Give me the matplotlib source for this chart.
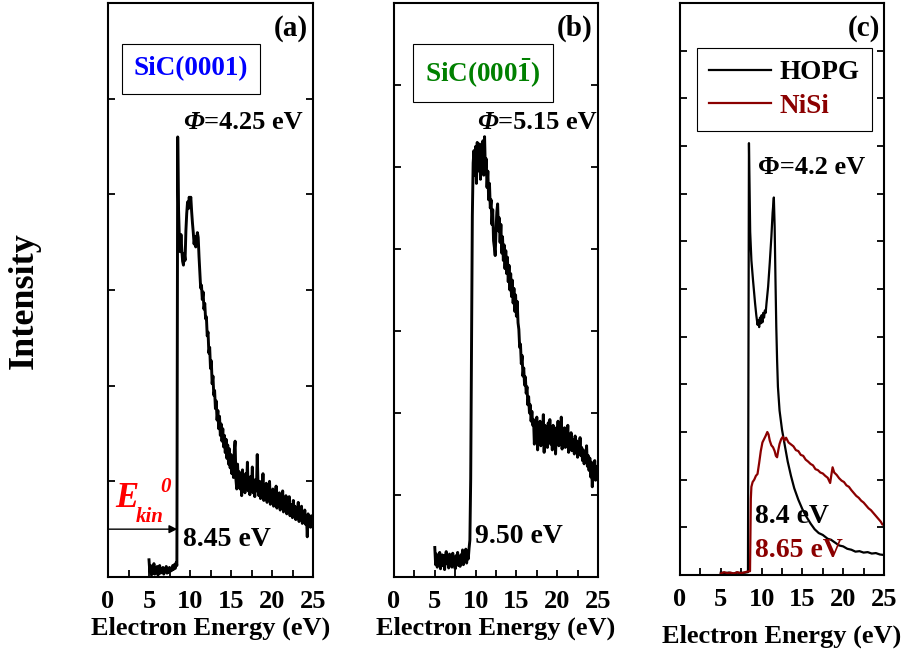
import numpy as np
import matplotlib
matplotlib.use("Agg")
import matplotlib.pyplot as plt
from matplotlib.ticker import MultipleLocator

plt.rcParams.update({
    "font.family": "Liberation Serif", "font.weight": "bold",
    "mathtext.fontset": "custom",
    "mathtext.rm": "Liberation Serif:bold",
    "mathtext.it": "Liberation Serif:italic:bold",
    "mathtext.bf": "Liberation Serif:bold",
    "axes.linewidth": 1.5,
})

NISI = "#8B0000"

# secondary-electron spectra of the two SiC faces, 0.1 eV steps from 5 to 25 eV
energy_sic = np.linspace(5.0, 25.0, 201)
sic_si_face = [
    0.18, 0.05, 0.12, 0.02, 0.09, 0.04, 0.14, 0.03, 0.08, 0.06,
    0.11, 0.02, 0.07, 0.12, 0.04, 0.09, 0.05, 0.10, 0.03, 0.07,
    0.06, 0.11, 0.04, 0.08, 0.05, 0.10, 0.06, 0.09, 0.07, 0.12,
    0.08, 0.13, 0.09, 0.15, 0.12, 4.60, 3.85, 3.55, 3.40, 3.58,
    3.42, 3.30, 3.26, 3.38, 3.31, 3.62, 3.80, 3.92, 3.85, 3.97,
    3.93, 3.97, 3.82, 3.70, 3.60, 3.48, 3.56, 3.45, 3.52, 3.60,
    3.55, 3.35, 3.18, 3.02, 3.05, 2.90, 2.98, 2.80, 2.86, 2.70,
    2.72, 2.52, 2.56, 2.34, 2.40, 2.18, 2.26, 2.02, 2.10, 1.90,
    1.95, 1.76, 1.84, 1.64, 1.74, 1.55, 1.68, 1.48, 1.60, 1.42,
    1.55, 1.36, 1.48, 1.30, 1.44, 1.24, 1.38, 1.18, 1.34, 1.14,
    1.28, 1.08, 1.24, 1.04, 1.32, 1.42, 1.02, 0.92, 1.18, 0.96,
    1.10, 0.92, 1.05, 0.85, 1.12, 0.95, 1.02, 0.88, 1.08, 0.93,
    1.20, 0.90, 1.00, 0.86, 1.05, 0.92, 1.15, 0.88, 0.98, 0.84,
    1.02, 0.90, 1.28, 0.95, 0.85, 1.00, 0.82, 0.96, 0.88, 1.08,
    0.80, 0.94, 0.84, 0.98, 0.78, 0.90, 0.82, 1.00, 0.76, 0.88,
    0.80, 0.92, 0.74, 0.86, 0.79, 0.95, 0.72, 0.84, 0.76, 0.88,
    0.70, 0.82, 0.75, 0.90, 0.68, 0.80, 0.73, 0.85, 0.66, 0.78,
    0.72, 0.84, 0.64, 0.76, 0.70, 0.62, 0.80, 0.66, 0.74, 0.60,
    0.71, 0.64, 0.78, 0.58, 0.68, 0.62, 0.74, 0.56, 0.66, 0.60,
    0.70, 0.55, 0.64, 0.42, 0.66, 0.58, 0.62, 0.52, 0.64, 0.56,
    0.60,
]
sic_c_face = [
    0.36, 0.15, 0.28, 0.12, 0.25, 0.18, 0.30, 0.10, 0.22, 0.27,
    0.14, 0.26, 0.09, 0.24, 0.31, 0.16, 0.23, 0.11, 0.28, 0.19,
    0.25, 0.12, 0.29, 0.17, 0.22, 0.10, 0.26, 0.20, 0.30, 0.14,
    0.24, 0.13, 0.27, 0.18, 0.33, 0.15, 0.25, 0.20, 0.34, 0.17,
    0.28, 0.22, 0.35, 0.45, 1.20, 2.80, 4.40, 5.05, 5.20, 4.90,
    5.25, 4.80, 5.30, 4.95, 5.15, 5.28, 4.85, 5.20, 5.05, 5.32,
    4.90, 5.37, 4.95, 5.10, 4.75, 4.95, 4.60, 4.80, 4.50, 4.60,
    4.30, 4.48, 4.10, 4.02, 3.92, 4.22, 4.45, 4.55, 4.22, 4.38,
    4.08, 4.30, 3.95, 4.15, 3.86, 4.05, 3.76, 3.98, 3.70, 3.90,
    3.60, 3.80, 3.50, 3.70, 3.42, 3.62, 3.34, 3.52, 3.24, 3.44,
    3.18, 3.36, 3.10, 3.02, 2.80, 2.84, 2.60, 2.70, 2.45, 2.55,
    2.34, 2.44, 2.24, 2.32, 2.10, 2.20, 2.00, 2.10, 1.90, 2.02,
    1.85, 1.92, 1.62, 1.88, 1.70, 1.95, 1.55, 1.82, 1.68, 1.90,
    1.60, 1.78, 1.72, 1.98, 1.52, 1.85, 1.66, 1.80, 1.58, 1.88,
    1.70, 1.92, 1.62, 1.78, 1.55, 1.85, 1.68, 1.75, 1.50, 1.82,
    1.66, 1.90, 1.60, 1.76, 1.68, 1.95, 1.56, 1.74, 1.62, 1.82,
    1.58, 1.72, 1.64, 1.85, 1.52, 1.70, 1.60, 1.76, 1.54, 1.68,
    1.62, 1.50, 1.72, 1.56, 1.66, 1.46, 1.62, 1.52, 1.70, 1.48,
    1.58, 1.42, 1.55, 1.38, 1.52, 1.44, 1.60, 1.35, 1.48, 1.30,
    1.45, 1.22, 1.40, 1.10, 1.38, 1.25, 1.42, 1.18, 1.35, 1.28,
    1.32,
]

# reference samples
hopg_energy = [
    5.0, 5.5, 6.0, 6.5, 7.0, 7.5, 8.0, 8.33,
    8.45, 8.52, 8.6, 8.75, 8.95, 9.2, 9.35, 9.5, 9.6, 9.7,
    9.8, 9.9, 10.0, 10.1, 10.2, 10.3, 10.4, 10.5, 10.6, 10.8,
    11.0, 11.2, 11.35, 11.5, 11.6, 11.7, 11.8, 11.9, 12.0, 12.2,
    12.5, 12.8, 13.2, 13.6, 14.0, 14.5, 15.0, 15.5, 16.0, 16.5,
    17.0, 17.5, 17.8, 18.1, 18.5, 19.0, 19.5, 20.0, 20.5, 21.0,
    21.5, 22.0, 22.5, 23.0, 23.5, 24.0, 24.5, 25.0,
]
hopg_counts = [
    0.05, 0.04, 0.05, 0.03, 0.05, 0.04, 0.05, 0.06,
    9.06, 8.20, 7.20, 6.60, 6.18, 5.70, 5.45, 5.25, 5.35, 5.20,
    5.40, 5.28, 5.45, 5.30, 5.50, 5.40, 5.55, 5.50, 5.70, 6.05,
    6.55, 7.10, 7.60, 7.92, 7.30, 6.20, 5.20, 4.50, 3.95, 3.45,
    3.05, 2.76, 2.38, 2.08, 1.82, 1.58, 1.38, 1.22, 1.08, 0.96,
    0.88, 0.84, 0.80, 0.76, 0.74, 0.68, 0.62, 0.60, 0.55, 0.53,
    0.49, 0.50, 0.47, 0.48, 0.45, 0.46, 0.43, 0.42,
]
nisi_energy = [
    5.0, 5.4, 5.8, 6.2, 6.6, 7.0, 7.4, 7.8, 8.2, 8.58,
    8.68, 8.75, 8.9, 9.1, 9.3, 9.5, 9.7, 9.9, 10.1, 10.3,
    10.5, 10.7, 10.85, 11.0, 11.2, 11.4, 11.6, 11.75, 11.9, 12.05,
    12.2, 12.4, 12.6, 12.8, 13.0, 13.3, 13.6, 13.9, 14.2, 14.5,
    14.8, 15.1, 15.4, 15.7, 16.0, 16.3, 16.6, 16.9, 17.2, 17.5,
    17.8, 18.1, 18.4, 18.55, 18.7, 18.9, 19.2, 19.5, 19.8, 20.1,
    20.4, 20.7, 21.0, 21.3, 21.6, 21.9, 22.2, 22.5, 22.8, 23.1,
    23.4, 23.7, 24.0, 24.3, 24.6, 24.8, 25.0,
]
nisi_counts = [
    0.03, 0.06, 0.04, 0.05, 0.03, 0.06, 0.04, 0.05, 0.07, 0.08,
    1.60, 1.85, 1.95, 2.00, 2.08, 2.12, 2.35, 2.60, 2.78, 2.85,
    2.92, 3.00, 2.95, 2.82, 2.72, 2.68, 2.60, 2.50, 2.47, 2.62,
    2.75, 2.85, 2.90, 2.82, 2.88, 2.78, 2.74, 2.70, 2.62, 2.60,
    2.52, 2.50, 2.42, 2.38, 2.33, 2.30, 2.22, 2.20, 2.15, 2.13,
    2.08, 2.04, 1.93, 2.10, 2.26, 2.15, 2.10, 2.03, 1.98, 1.95,
    1.88, 1.85, 1.78, 1.72, 1.66, 1.62, 1.56, 1.52, 1.46, 1.40,
    1.36, 1.30, 1.24, 1.18, 1.12, 1.06, 1.05,
]

# secondary-edge positions (eV)
edge_si = 8.45
edge_c = 9.50
edge_hopg = 8.4
edge_nisi = 8.65


def style(ax, ymax):
    ax.set_xlim(0, 25)
    ax.set_ylim(0, ymax)
    ax.xaxis.set_major_locator(MultipleLocator(5))
    ax.xaxis.set_minor_locator(MultipleLocator(2.5))
    ax.yaxis.set_major_locator(MultipleLocator(1))
    ax.tick_params(which="both", direction="in", length=5, width=1.3,
                   top=False, right=True, labelleft=False, labelsize=19, pad=9)
    ax.set_xlabel("Electron Energy (eV)", fontsize=19, fontweight="bold", labelpad=3)


fig = plt.figure(figsize=(9.15, 6.57), dpi=100)
W, H = 915, 657
ax_a = fig.add_axes([108 / W, 1 - 577 / H, 205 / W, 574 / H])
ax_b = fig.add_axes([394 / W, 1 - 577 / H, 204 / W, 574 / H])
ax_c = fig.add_axes([680 / W, 1 - 575 / H, 204 / W, 572 / H])

# ---- (a) Si face ----
ax_a.plot(energy_sic, sic_si_face, color="k", lw=2.1)
style(ax_a, 6)
ax_a.text(0.975, 0.955, "(a)", transform=ax_a.transAxes, ha="right", va="center", fontsize=21)
ax_a.text(0.405, 0.885, "SiC(0001)", transform=ax_a.transAxes, ha="center", va="center",
          fontsize=19.5, color="#0000FF",
          bbox=dict(boxstyle="square,pad=0.45", fc="white", ec="black", lw=0.8))
phi = ax_a.text(0.366, 0.791, "Φ", transform=ax_a.transAxes, ha="left", va="center",
                fontsize=19, style="italic")
ax_a.annotate("=4.25 eV", xy=(1, 0), xycoords=phi, ha="left", va="bottom", fontsize=19)
ax_a.annotate("", xy=(edge_si, 0.5), xytext=(0, 0.5),
              arrowprops=dict(arrowstyle="-|>", color="k", lw=1, mutation_scale=12,
                              shrinkA=0, shrinkB=0))
ax_a.text(edge_si + 0.7, 0.39, f"{edge_si:.2f} eV", ha="left", va="center", fontsize=20)
ax_a.text(0.034, 0.136, "E", transform=ax_a.transAxes, ha="left", va="center",
          fontsize=25, style="italic", color="red")
ax_a.text(0.137, 0.105, "kin", transform=ax_a.transAxes, ha="left", va="center",
          fontsize=15, style="italic", color="red")
ax_a.text(0.254, 0.157, "0", transform=ax_a.transAxes, ha="left", va="center",
          fontsize=15, style="italic", color="red")

# ---- (b) C face ----
ax_b.plot(energy_sic, sic_c_face, color="k", lw=2.1)
style(ax_b, 7)
ax_b.text(0.975, 0.955, "(b)", transform=ax_b.transAxes, ha="right", va="center", fontsize=21)
ax_b.text(0.436, 0.878, r"SiC(000$\bar{1}$)", transform=ax_b.transAxes, ha="center", va="center",
          fontsize=19.5, color="#008000",
          bbox=dict(boxstyle="square,pad=0.45", fc="white", ec="black", lw=0.8))
phi = ax_b.text(0.407, 0.791, "Φ", transform=ax_b.transAxes, ha="left", va="center",
                fontsize=19, style="italic")
ax_b.annotate("=5.15 eV", xy=(1, 0), xycoords=phi, ha="left", va="bottom", fontsize=19)
ax_b.text(edge_c + 0.4, 0.49, f"{edge_c:.2f} eV", ha="left", va="center", fontsize=20)

# ---- (c) HOPG / NiSi ----
ax_c.plot(hopg_energy, hopg_counts, color="k", lw=1.6, label="HOPG")
ax_c.plot(nisi_energy, nisi_counts, color=NISI, lw=1.6, label="NiSi")
style(ax_c, 12)
ax_c.xaxis.labelpad = 10
ax_c.text(0.98, 0.955, "(c)", transform=ax_c.transAxes, ha="right", va="center", fontsize=21)
leg = ax_c.legend(loc="upper left", bbox_to_anchor=(0.083, 0.921), borderaxespad=0,
                  fancybox=False, edgecolor="black", framealpha=1, fontsize=19.5,
                  handlelength=2.3, handletextpad=0.3, labelspacing=0.3, borderpad=0.45)
leg.get_frame().set_linewidth(0.8)
for txt, col in zip(leg.get_texts(), ["k", NISI]):
    txt.set_color(col)
ax_c.text(0.382, 0.713, "Φ=4.2 eV", transform=ax_c.transAxes, ha="left", va="center", fontsize=19)
ax_c.text(9.2, 1.22, f"{edge_hopg} eV", ha="left", va="center", fontsize=20)
ax_c.text(9.2, 0.52, f"{edge_nisi} eV", ha="left", va="center", fontsize=20, color=NISI)

fig.text(24 / W, 1 - 301 / H, "Intensity", rotation=90, ha="center", va="center", fontsize=26)

fig.savefig("out.png", dpi=100)
